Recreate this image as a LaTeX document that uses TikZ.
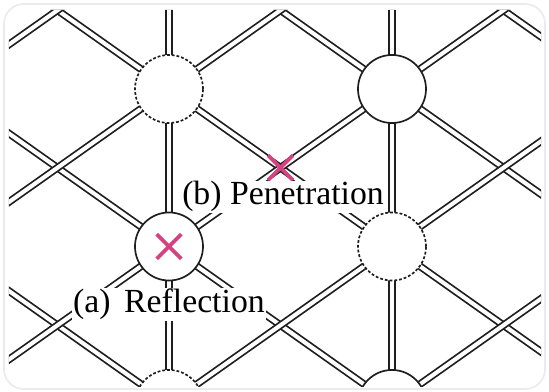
\documentclass[tikz,border=0pt]{standalone}
\usepackage{fontspec}
\setmainfont{Liberation Serif}
\usepackage{tikz}
\usetikzlibrary{calc, shapes.misc}
\definecolor{ink}{HTML}{1E1E1E}
\definecolor{hitpink}{HTML}{D6417F}
\definecolor{framegray}{HTML}{EBEBEB}

\begin{document}
\begin{tikzpicture}[
  x=0.025cm, y=-0.025cm,
  wall/.style={draw=ink, line width=1.25pt, double=white, double distance=2.9pt},
  pillar/.style={circle, draw=ink, fill=white, line width=1.2pt, minimum size=1.7cm, inner sep=0pt},
  ghost/.style={pillar, dash pattern=on 2pt off 1.4pt},
  hit/.style={cross out, draw=hitpink, line width=2.7pt, minimum size=0.52cm, inner sep=0pt},
  tag/.style={fill=white, inner sep=0.6pt, font=\fontsize{24}{28}\selectfont}
]
\useasboundingbox (0,0) rectangle (549,392);
\draw[framegray, line width=1.2pt, rounded corners=14pt] (4,4) rectangle (545,389);
\begin{scope}
\clip[rounded corners=12pt] (9,10) rectangle (541,387);
\foreach \i in {0,...,3}
  \foreach \j in {0,...,3}
    \coordinate (v\i\j) at ({-54+223*\i},{-68.5+157.5*\j});
\foreach \i in {0,1,2} {
  \pgfmathtruncatemacro\ii{\i+1}
  \foreach \j in {0,1,2} {
    \pgfmathtruncatemacro\jj{\j+1}
    \draw[wall] (v\i\j) -- (v\ii\jj);
    \draw[wall] (v\i\jj) -- (v\ii\j);
  }
}
\foreach \i in {1,2}
  \foreach \j in {0,1,2} {
    \pgfmathtruncatemacro\jj{\j+1}
    \draw[wall] (v\i\j) -- (v\i\jj);
  }
\node[ghost] (c11) at (v11) {};
\node[pillar] (c21) at (v21) {};
\node[pillar] (c12) at (v12) {};
\node[ghost] (c22) at (v22) {};
\node[ghost] (c13) at (v13) {};
\node[pillar] (c23) at (v23) {};
\end{scope}
\node[hit] (refl) at (c12) {};
\coordinate (cross) at ($(v11)!0.5!(v22)$);
\node[hit] (pen) at (cross) {};
\node[tag, anchor=base] (pentag) at (283,205) {(b) Penetration};
\node[tag, anchor=base] (refltag) at (169,313) {(a)\hspace{0.4em}Reflection};
\end{tikzpicture}
\end{document}
